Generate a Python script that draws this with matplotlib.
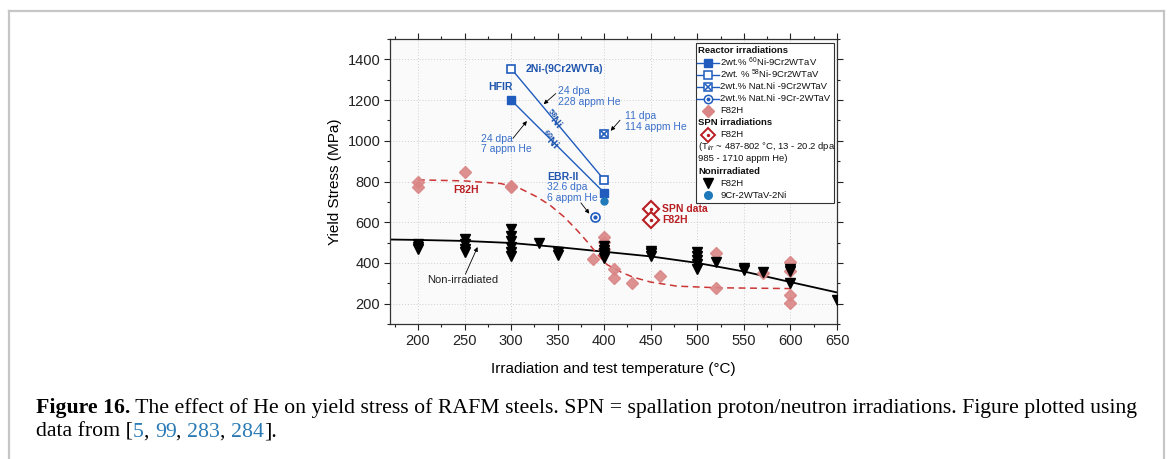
import numpy as np
import matplotlib
matplotlib.use("Agg")
import matplotlib.pyplot as plt
from matplotlib.lines import Line2D
from matplotlib.patches import Rectangle

plt.rcParams["font.family"] = ["Liberation Sans", "DejaVu Sans"]
plt.rcParams["mathtext.fontset"] = "custom"
plt.rcParams["mathtext.rm"] = "Liberation Sans"
plt.rcParams["mathtext.it"] = "Liberation Sans:italic"
plt.rcParams["mathtext.bf"] = "Liberation Sans:bold"

# reactor irradiations (HFIR / EBR-II)
temps_60ni = [300, 400]
ys_60ni = [1200, 745]
temps_58ni = [300, 400]
ys_58ni = [1355, 808]
temps_natni = [400]
ys_natni = [1035]
temps_natni_cr = [390]
ys_natni_cr = [625]

# F82H reactor irradiated
temps_f82h_irr = [200, 200, 250, 300, 300, 388, 400, 400, 400, 410, 410, 430, 460,
                  520, 520, 570, 600, 600, 600, 600]
ys_f82h_irr = [798, 773, 848, 780, 775, 421, 525, 505, 470, 368, 325, 302, 336,
               451, 275, 350, 405, 360, 243, 202]

# SPN irradiations
temps_spn = [450, 450]
ys_spn = [665, 612]

# nonirradiated
temps_f82h_nonirr = [200, 200, 200, 250, 250, 250, 250, 300, 300, 300, 300, 300, 300,
                     330, 350, 350, 400, 400, 400, 400, 400, 450, 450, 450,
                     500, 500, 500, 500, 500, 520, 550, 550, 570, 600, 600, 600, 650]
ys_f82h_nonirr = [495, 480, 470, 518, 495, 468, 455, 568, 530, 508, 478, 455, 435,
                  497, 455, 440, 482, 462, 450, 438, 422, 460, 448, 435,
                  452, 432, 415, 395, 368, 407, 375, 365, 357, 372, 362, 300, 218]
temps_9cr2ni = [400]
ys_9cr2ni = [705]

# trend curves
fit_nonirr_T = [170, 200, 250, 300, 350, 400, 450, 500, 550, 600, 650]
fit_nonirr_ys = [515, 513, 508, 498, 478, 455, 432, 400, 358, 306, 255]
fit_irr_T = [200, 250, 289, 310, 328, 342, 357, 371, 382, 392, 403, 418, 431, 450,
             478, 521, 600]
fit_irr_ys = [808, 803, 790, 765, 724, 683, 626, 560, 503, 446, 392, 355, 330, 306,
              286, 278, 274]

BLUE = "#1f5cbd"
BLUE_TXT = "#3a6fc9"
BLUE_DK = "#1f55ad"
CIRC = "#2079b8"
PINK = "#da8686"
RED = "#b81e22"
RED_LINE = "#cc3535"

fig = plt.figure(figsize=(11.68, 4.59), dpi=100)
W, H = 1168, 459

# page frame
fig.add_artist(Line2D([8.5 / W, 8.5 / W], [0, 1 - 10.5 / H], transform=fig.transFigure,
                      color="#c6c6c6", lw=1.6))
fig.add_artist(Line2D([8.5 / W, 1164 / W], [1 - 10.5 / H, 1 - 10.5 / H],
                      transform=fig.transFigure, color="#c6c6c6", lw=1.6))
fig.add_artist(Line2D([1164 / W, 1164 / W], [0, 1 - 10.5 / H], transform=fig.transFigure,
                      color="#c6c6c6", lw=1.6))

ax = fig.add_axes([390 / W, 1 - 324 / H, 447 / W, 285 / H])
ax.set_facecolor("#fafafa")
ax.set_xlim(170, 650)
ax.set_ylim(100, 1500)
ax.set_xticks(np.arange(200, 651, 50))
ax.set_xticks(np.arange(175, 651, 25), minor=True)
ax.set_yticks(np.arange(200, 1401, 200))
ax.set_yticks(np.arange(100, 1501, 100), minor=True)
ax.grid(True, which="major", linestyle=(0, (1, 2)), color="#cfcfcf", lw=0.7)
ax.set_axisbelow(True)
ax.tick_params(which="both", direction="out", labelsize=10.5, pad=3, colors="#222222")
ax.tick_params(which="major", length=4, width=0.8)
ax.tick_params(which="minor", length=2.5, width=0.8)
ax.tick_params(which="both", top=True, right=True)
for s in ax.spines.values():
    s.set_color("#333333")
    s.set_linewidth(0.9)
ax.set_xlabel("Irradiation and test temperature (°C)", fontsize=11, labelpad=10)
ax.set_ylabel("Yield Stress (MPa)", fontsize=11, labelpad=4)

# trend curves
ax.plot(fit_nonirr_T, fit_nonirr_ys, color="black", lw=1.3, zorder=2)
ax.plot(fit_irr_T, fit_irr_ys, color=RED_LINE, lw=1.1, dashes=(4.5, 3), zorder=2)

# data
ax.plot(temps_f82h_irr, ys_f82h_irr, "D", ms=6.5, color=PINK, mec=PINK, alpha=0.9,
        zorder=3)
ax.plot(temps_f82h_nonirr, ys_f82h_nonirr, "v", ms=7, color="black", zorder=4)
ax.plot(temps_58ni, ys_58ni, "-s", color=BLUE, lw=1, ms=6, mfc="white", mew=1.2, zorder=5)
ax.plot(temps_60ni, ys_60ni, "-s", color=BLUE, lw=1, ms=6, mfc=BLUE, zorder=5)
ax.plot(temps_natni, ys_natni, "s", color=BLUE, ms=6, mfc="white", mew=1.2, zorder=5)
ax.plot(temps_natni, ys_natni, "x", color=BLUE, ms=4.5, mew=1.2, zorder=6)
ax.plot(temps_natni_cr, ys_natni_cr, "o", color=BLUE, ms=6.5, mfc="white", mew=1.2, zorder=5)
ax.plot(temps_natni_cr, ys_natni_cr, "o", color=BLUE, ms=2, zorder=6)
ax.plot(temps_9cr2ni, ys_9cr2ni, "o", color=CIRC, ms=5, zorder=5)
ax.plot(temps_spn, ys_spn, "D", ms=8, mfc="white", mec=RED, mew=1.5, zorder=5)
ax.plot(temps_spn, ys_spn, "o", ms=1.5, color=RED, zorder=6)

# labels
fs = 7.5
ax.text(316, 1355, "2Ni-(9Cr2WVTa)", color=BLUE_DK, fontsize=fs, fontweight="bold",
        va="center")
ax.text(275, 1265, "HFIR", color=BLUE_DK, fontsize=fs, fontweight="bold", va="center")
ax.text(350, 1218, "24 dpa\n228 appm He", color=BLUE_TXT, fontsize=fs, va="center",
        linespacing=1.05)
ax.text(268, 985, "24 dpa\n7 appm He", color=BLUE_TXT, fontsize=fs, va="center",
        linespacing=1.05)
ax.text(422, 1094, "11 dpa\n114 appm He", color=BLUE_TXT, fontsize=fs, va="center",
        linespacing=1.05)
ax.text(339, 822, "EBR-II", color=BLUE_DK, fontsize=fs, fontweight="bold", va="center")
ax.text(339, 745, "32.6 dpa\n6 appm He", color=BLUE_TXT, fontsize=fs, va="center",
        linespacing=1.05)
ax.text(238, 757, "F82H", color=RED, fontsize=fs, fontweight="bold", va="center")
ax.text(462, 665, "SPN data", color=RED, fontsize=fs, fontweight="bold", va="center")
ax.text(462, 612, "F82H", color=RED, fontsize=fs, fontweight="bold", va="center")
ax.text(210, 314, "Non-irradiated", color="#222222", fontsize=8, va="center")

# isotope tags along the lines
for tx, ty, tag, xs, ys in [(346, 1108, r"$\mathbf{^{58}}$Ni", temps_58ni, ys_58ni),
                            (342, 1008, r"$\mathbf{^{60}}$Ni", temps_60ni, ys_60ni)]:
    slope = np.degrees(np.arctan2(ys[1] - ys[0], xs[1] - xs[0]))
    ang = ax.transData.transform_angles(np.array([slope]), np.array([[tx, ty]]))[0]
    ax.text(tx, ty, tag, color=BLUE_DK, fontsize=7.8, fontweight="bold", rotation=ang,
            rotation_mode="anchor", ha="center", va="center", zorder=7)

arrow = dict(arrowstyle="-|>", color="black", lw=0.6, mutation_scale=6,
             shrinkA=0, shrinkB=0)
ax.annotate("", xy=(335, 1180), xytext=(348, 1232), arrowprops=arrow)
ax.annotate("", xy=(317, 1097), xytext=(302, 1012), arrowprops=arrow)
ax.annotate("", xy=(407, 1049), xytext=(417, 1101), arrowprops=arrow)
ax.annotate("", xy=(384, 642), xytext=(375, 695), arrowprops=arrow)
ax.annotate("", xy=(264, 478), xytext=(251, 345), arrowprops=arrow)

# legend panel
def ax_xy(px, py):
    return (px - 390) / 447, 1 - (py - 39) / 285

lx0, ly0 = ax_xy(696, 203)
lx1, ly1 = ax_xy(834, 43)
ax.add_patch(Rectangle((lx0, ly0), lx1 - lx0, ly1 - ly0, transform=ax.transAxes,
                       facecolor="white", edgecolor="#333333", lw=0.8, zorder=8))
lfs = 6.8
row_y = [50.7 + 12.03 * i for i in range(13)]
mx = ax_xy(708, 0)[0]
tx_ = ax_xy(720.5, 0)[0]
hx = ax_xy(698, 0)[0]
lin0, lin1 = ax_xy(697, 0)[0], ax_xy(719, 0)[0]

def legend_row(i, label, bold=False, x=None):
    y = ax_xy(0, row_y[i])[1]
    ax.text(tx_ if x is None else x, y, label, transform=ax.transAxes, fontsize=lfs,
            fontweight="bold" if bold else "normal", va="center", zorder=10,
            color="#111111")
    return y

def legend_mark(y, line=False, **kw):
    if line:
        ax.plot([lin0, lin1], [y, y], transform=ax.transAxes, color=BLUE, lw=1,
                zorder=9, clip_on=False)
    ax.plot([mx], [y], transform=ax.transAxes, zorder=10, clip_on=False, **kw)

legend_row(0, "Reactor irradiations", bold=True, x=hx)
y = legend_row(1, r"2wt.% $^{60}$Ni-9Cr2WTaV")
legend_mark(y, line=True, marker="s", ms=6, color=BLUE, ls="none")
y = legend_row(2, r"2wt. % $^{58}$Ni-9Cr2WTaV")
legend_mark(y, line=True, marker="s", ms=6, color=BLUE, mfc="white", mew=1.1, ls="none")
y = legend_row(3, "2wt.% Nat.Ni -9Cr2WTaV")
legend_mark(y, line=True, marker="s", ms=6, color=BLUE, mfc="white", mew=1.1, ls="none")
legend_mark(y, marker="x", ms=4.5, color=BLUE, mew=1.1, ls="none")
y = legend_row(4, "2wt.% Nat.Ni -9Cr-2WTaV")
legend_mark(y, line=True, marker="o", ms=6, color=BLUE, mfc="white", mew=1.1, ls="none")
legend_mark(y, marker="o", ms=1.8, color=BLUE, ls="none")
y = legend_row(5, "F82H")
legend_mark(y, marker="D", ms=6, color=PINK, ls="none")
legend_row(6, "SPN irradiations", bold=True, x=hx)
y = legend_row(7, "F82H")
legend_mark(y, marker="D", ms=7.5, mfc="white", mec=RED, mew=1.4, ls="none")
legend_mark(y, marker="o", ms=1.4, color=RED, ls="none")
legend_row(8, r"(T$_{irr}$ ~ 487-802 °C, 13 - 20.2 dpa", x=hx)
legend_row(9, "985 - 1710 appm He)", x=hx)
legend_row(10, "Nonirradiated", bold=True, x=hx)
y = legend_row(11, "F82H")
legend_mark(y, marker="v", ms=6.5, color="black", ls="none")
y = legend_row(12, "9Cr-2WTaV-2Ni")
legend_mark(y, marker="o", ms=5.5, color=CIRC, ls="none")

# caption below the chart
renderer = fig.canvas.get_renderer()
CAP_FONT = "Liberation Serif"
LINK = "#2a7ab5"

def run_width(s, size, weight):
    t1 = fig.text(0, 0, "|" + s + "|", family=CAP_FONT, fontsize=size, fontweight=weight)
    t2 = fig.text(0, 0, "||", family=CAP_FONT, fontsize=size, fontweight=weight)
    w = t1.get_window_extent(renderer).width - t2.get_window_extent(renderer).width
    t1.remove()
    t2.remove()
    return w

line1 = [("Figure 16.", "bold", "black"),
         (" The effect of He on yield stress of RAFM steels. SPN = spallation "
          "proton/neutron irradiations. Figure plotted using", "normal", "black")]
line2 = [("data from [", "normal", "black"), ("5", "normal", LINK), (", ", "normal", "black"),
         ("99", "normal", LINK), (", ", "normal", "black"), ("283", "normal", LINK),
         (", ", "normal", "black"), ("284", "normal", LINK), ("].", "normal", "black")]

base = sum(run_width(s, 10, w) for s, w, _ in line1)
cap_size = 10 * 1104 / base

def draw_runs(runs, x_px, y_px):
    x = x_px
    for s, w, c in runs:
        fig.text(x / W, 1 - y_px / H, s, family=CAP_FONT, fontsize=cap_size,
                 fontweight=w, color=c, va="baseline")
        x += run_width(s, cap_size, w)

draw_runs(line1, 36, 413)
draw_runs(line2, 36, 437)

fig.savefig("out.png", dpi=100)
